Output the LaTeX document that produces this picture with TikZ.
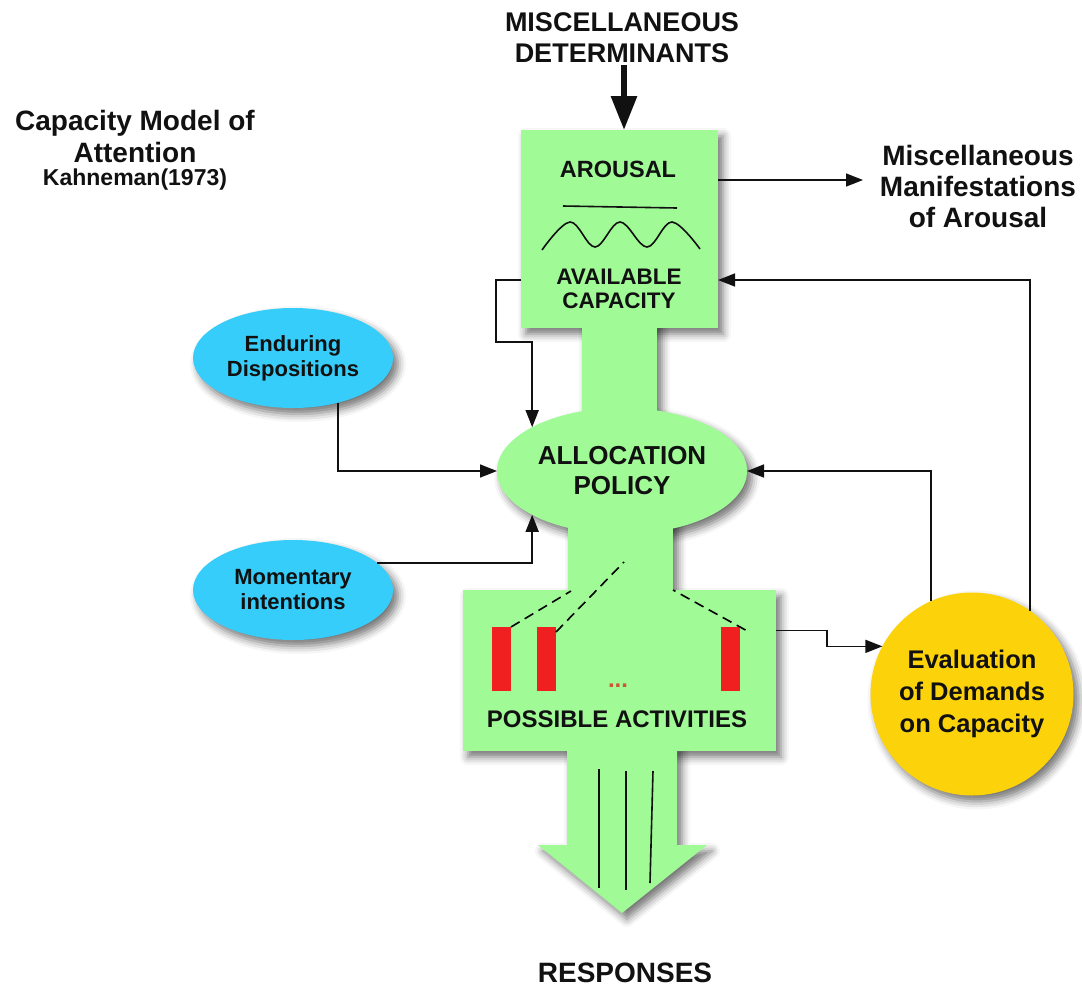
\documentclass[tikz,border=0pt]{standalone}
\usepackage{fontspec}
\setmainfont{Liberation Sans}
\usetikzlibrary{arrows.meta,shapes.geometric,shadows.blur}
\newcommand\setfs[2]{\fontsize{#1pt}{#2pt}\selectfont\bfseries}

\definecolor{boxgreen}{RGB}{160,250,150}
\definecolor{dispblue}{RGB}{55,205,250}
\definecolor{evalgold}{RGB}{252,210,10}
\definecolor{actred}{RGB}{240,32,32}
\definecolor{dotred}{RGB}{205,85,50}
\definecolor{inkblack}{RGB}{17,17,17}

\tikzset{
  softshadow/.style={blur shadow={shadow xshift=5pt, shadow yshift=-6pt,
      shadow blur radius=8pt, shadow opacity=55}},
  lbl/.style={align=center, inner sep=0pt, outer sep=0pt, text=inkblack},
  conn/.style={line width=1.6pt, draw=inkblack,
      -{Triangle[length=17pt,width=13pt]}},
  bigarrow/.style={line width=6pt, draw=inkblack,
      -{Triangle[length=34pt,width=25pt]}},
  dashline/.style={line width=1.6pt, dash pattern=on 10pt off 6pt},
  thinline/.style={line width=1.6pt, draw=inkblack},
  bar/.style={rectangle, fill=actred, inner sep=0pt, outer sep=0pt,
      minimum width=19pt, minimum height=64pt},
  bluenode/.style={ellipse, fill=dispblue, softshadow, inner sep=0pt,
      outer sep=0pt, minimum width=200pt, minimum height=100pt,
      align=center, text=inkblack, font=\setfs{22}{25}},
}

\begin{document}
\begin{tikzpicture}[x=1pt,y=-1pt]
\useasboundingbox (0,0) rectangle (1082,989);

% frames of the two green boxes (used for anchors)
\node[rectangle, minimum width=197pt, minimum height=198pt, inner sep=0pt,
      outer sep=0pt] (arousalbox) at (619.5,229) {};
\node[rectangle, minimum width=313pt, minimum height=161pt, inner sep=0pt,
      outer sep=0pt] (actbox) at (619.5,670.5) {};

% shadows of the green capacity column
\path[softshadow] (arousalbox.north west) rectangle (arousalbox.south east);
\path[softshadow] (582,320) rectangle (657,430);
\path[softshadow] (622,471) ellipse [x radius=125, y radius=63];
\path[softshadow] (568,515) rectangle (673,600);
\path[softshadow] (actbox.north west) rectangle (actbox.south east);
\path[softshadow] (567,745) -- (677,745) -- (677,845) -- (707,845)
      -- (622,913) -- (538,845) -- (567,845) -- cycle;

% green capacity column
\fill[boxgreen] (arousalbox.north west) rectangle (arousalbox.south east);
\fill[boxgreen] (582,320) rectangle (657,430);
\fill[boxgreen] (568,515) rectangle (673,600);
\fill[boxgreen] (actbox.north west) rectangle (actbox.south east);
\fill[boxgreen] (567,745) -- (677,745) -- (677,845) -- (707,845)
      -- (622,913) -- (538,845) -- (567,845) -- cycle;
\node[ellipse, fill=boxgreen, inner sep=0pt, outer sep=0pt,
      minimum width=250pt, minimum height=126pt, align=center,
      text=inkblack, font=\setfs{26}{30}] (alloc) at (622,471)
      {ALLOCATION\\POLICY};

% arousal box contents
\node[lbl, font=\setfs{23.5}{26}] (arousaltxt) at (618,169) {AROUSAL};
\draw[thinline] (563,206) -- (677,208);
\draw[thinline] plot[smooth, tension=0.6] coordinates
  {(542,250) (570,222) (595,247) (620,222) (647,247) (672,222) (700,249)};
\node[lbl, font=\setfs{22.5}{24}] (availtxt) at (619,288.5)
  {AVAILABLE\\CAPACITY};

% possible activities
\node[bar] (bar1) at (501.5,659) {};
\node[bar] (bar2) at (546.5,659) {};
\node[bar] (bar3) at (730,659) {};
\node[lbl, text=dotred, font=\setfs{24}{24}] (dots) at (618,686) {...};
\node[lbl, font=\setfs{24}{26}] (actstxt) at (617,719) {POSSIBLE ACTIVITIES};
\coordinate (d1) at (571,591);
\coordinate (d2) at (624,562);
\coordinate (d3) at (673,590);
\draw[dashline] (bar1.north east) -- (d1);
\draw[dashline] ([yshift=-5pt]bar2.north east) -- (d2);
\draw[dashline] ([xshift=6pt,yshift=-3pt]bar3.north east) -- (d3);

% response strands
\draw[thinline] (599,769) -- (599,888);
\draw[thinline] (626,771) -- (626,890);
\draw[thinline] (653,771) -- (650,883);

% outer labels
\node[lbl, font=\setfs{27}{31}] (det) at (622,38)
  {MISCELLANEOUS\\DETERMINANTS};
\node[lbl, font=\setfs{28}{32}] (title) at (135,136)
  {Capacity Model of\\Attention};
\node[lbl, font=\setfs{23}{26}] (author) at (135,180) {Kahneman(1973)};
\node[lbl, font=\setfs{28}{31}] (manif) at (978,186)
  {Miscellaneous\\Manifestations\\of Arousal};
\node[lbl, font=\setfs{28}{30}] (resp) at (625,973) {RESPONSES};

% side nodes
\node[bluenode] (endur) at (293,358) {Enduring\\Dispositions};
\node[bluenode] (momen) at (293,590) {Momentary\\intentions};
\node[circle, fill=evalgold, softshadow, inner sep=0pt, outer sep=0pt,
      minimum size=203pt, align=center, text=inkblack,
      font=\setfs{25.5}{32}] (evalc) at (972,694)
  {Evaluation\\of Demands\\on Capacity};

% connectors
\coordinate (manifin) at (863,180);
\coordinate (loopbend) at (496,342);
\draw[bigarrow] ([xshift=2pt,yshift=-2pt]det.south) -- ([xshift=4.5pt]arousalbox.north);
\draw[conn] ([yshift=49pt]arousalbox.east) -- (manifin);
\draw[conn] (evalc.55.5) |- ([yshift=-51pt]arousalbox.east);
\draw[conn] (evalc.114.2) |- (alloc.east);
\draw[conn] ([yshift=40pt]actbox.east) -- ++(51pt,0) |- (evalc.152.5);
\draw[conn] (endur.-45.6) |- (alloc.west);
\draw[conn] (momen.18) -| (alloc.206);
\draw[conn] ([yshift=-51pt]arousalbox.west) -| (loopbend) -| (alloc.154);
\end{tikzpicture}
\end{document}
